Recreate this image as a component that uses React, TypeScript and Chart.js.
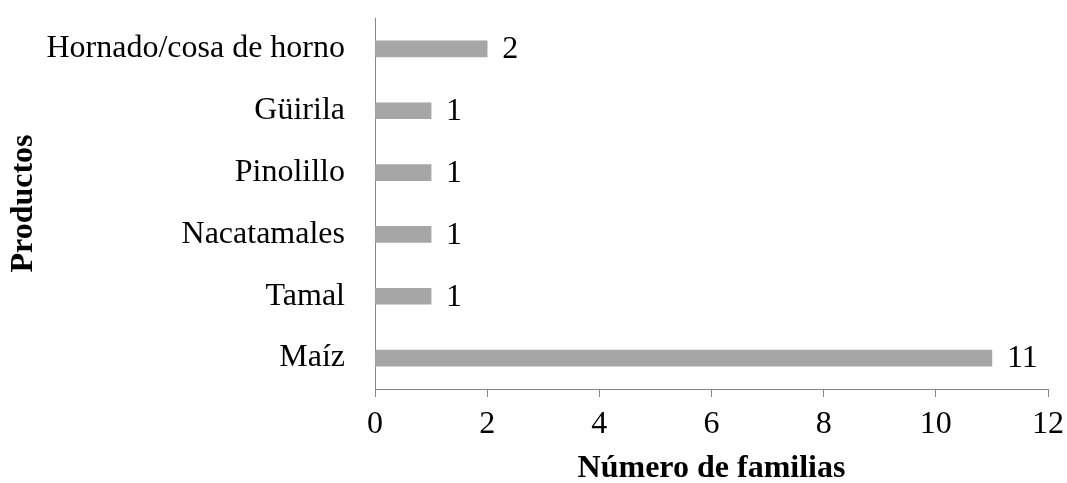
import React, { useEffect, useRef } from "react";
import { Chart, registerables } from "chart.js";

Chart.register(...registerables);

const categories = ["Hornado/cosa de horno", "Güirila", "Pinolillo", "Nacatamales", "Tamal", "Maíz"];
const values = [2, 1, 1, 1, 1, 11];
const xTicks = [0, 2, 4, 6, 8, 10, 12];

const FONT = "'Liberation Serif', 'Times New Roman', serif";
const AXIS_COLOR = "#868686";
const BAR_COLOR = "#a6a6a6";

const valueLabels = {
  id: "valueLabels",
  afterDatasetsDraw(chart: any) {
    const ctx = chart.ctx;
    const meta = chart.getDatasetMeta(0);
    ctx.save();
    ctx.font = `32px ${FONT}`;
    ctx.fillStyle = "#000";
    ctx.textAlign = "left";
    ctx.textBaseline = "middle";
    meta.data.forEach((el: any, i: number) => {
      ctx.fillText(String(values[i]), el.x + 15, el.y + 1);
    });
    ctx.restore();
  },
};

export default function App() {
  const ref = useRef<HTMLCanvasElement | null>(null);
  useEffect(() => {
    document.body.style.margin = "0";
    const canvas = ref.current!;
    const chart = new Chart(canvas, {
      type: "bar",
      data: {
        labels: categories,
        datasets: [
          {
            data: values,
            backgroundColor: BAR_COLOR,
            borderWidth: 0,
            barThickness: 16,
          },
        ],
      },
      options: {
        indexAxis: "y",
        responsive: false,
        animation: false,
        devicePixelRatio: 1,
        layout: { padding: { top: 18, right: 19, left: 0, bottom: 0 } },
        plugins: {
          legend: { display: false },
          tooltip: { enabled: false },
        },
        scales: {
          x: {
            type: "linear",
            min: 0,
            max: 12,
            afterBuildTicks(scale: any) {
              scale.ticks = xTicks.map((v) => ({ value: v }));
            },
            afterFit(scale: any) {
              scale.height = 94;
              scale.paddingLeft = 0;
              scale.paddingRight = 0;
            },
            grid: {
              display: true,
              drawOnChartArea: false,
              drawTicks: true,
              tickLength: 8,
              color: AXIS_COLOR,
            },
            border: { display: true, color: AXIS_COLOR, width: 1 },
            ticks: {
              color: "#000",
              font: { family: FONT, size: 32 },
              padding: 8,
              maxRotation: 0,
            },
            title: {
              display: true,
              text: "Número de familias",
              color: "#000",
              font: { family: FONT, size: 32, weight: "bold", lineHeight: 0.9 },
              padding: { top: 0, bottom: 0 },
            },
          },
          y: {
            type: "category",
            offset: true,
            afterFit(scale: any) {
              scale.width = 375;
              scale.paddingTop = 0;
              scale.paddingBottom = 0;
            },
            grid: {
              display: true,
              drawOnChartArea: false,
              drawTicks: false,
              color: "rgba(0,0,0,0)",
            },
            border: { display: true, color: AXIS_COLOR, width: 1 },
            ticks: {
              color: "#000",
              font: { family: FONT, size: 32 },
              padding: 30,
            },
            title: {
              display: true,
              text: "Productos",
              color: "#000",
              font: { family: FONT, size: 32, weight: "bold", lineHeight: 1.2 },
              padding: { top: 5, bottom: 0 },
            },
          },
        },
      },
      plugins: [valueLabels],
    });
    return () => chart.destroy();
  }, []);
  return (
    <div style={{ width: 1067, height: 483 }}>
      <canvas ref={ref} width={1067} height={483} style={{ display: "block" }} />
    </div>
  );
}
